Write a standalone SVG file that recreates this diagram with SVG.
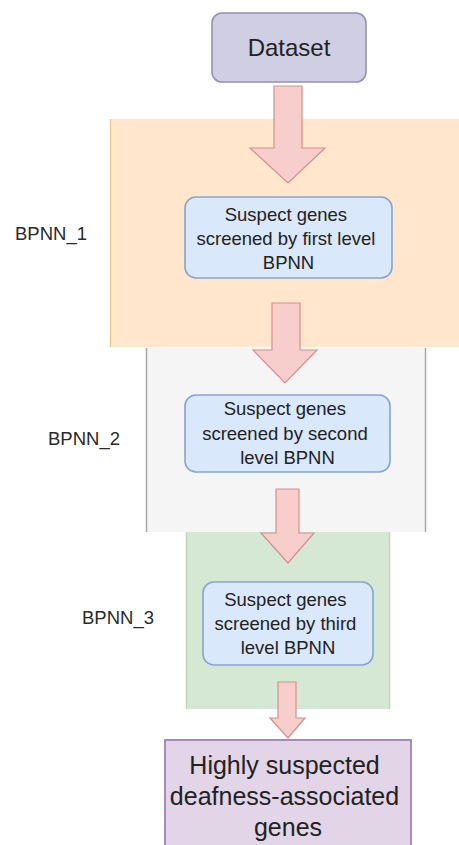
<svg xmlns="http://www.w3.org/2000/svg" width="459" height="845" viewBox="0 0 459 845">
  <style>
    .lbl { font-family: "Liberation Sans", Arial, sans-serif; fill: #222; text-anchor: middle; }
    .side { font-family: "Liberation Sans", Arial, sans-serif; fill: #2a2a2a; font-size: 18.5px; }
    .step { fill: #dae8fc; stroke: #86a3d6; stroke-width: 1.6; }
    .arrow { fill: #f8cecc; stroke: #d68f8c; stroke-width: 1.2; stroke-linejoin: miter; }
  </style>

  <rect width="459" height="845" fill="#ffffff"/>

  <!-- stage panels -->
  <g id="panel-bpnn1">
    <rect x="110" y="119" width="349" height="228" fill="#ffe6cc"/>
    <line x1="110.5" y1="119" x2="110.5" y2="347" stroke="#f0c98f" stroke-width="1.5"/>
  </g>
  <g id="panel-bpnn2">
    <rect x="146" y="348" width="280" height="184" fill="#f5f5f5"/>
    <line x1="146.5" y1="348" x2="146.5" y2="532" stroke="#a8a8a8" stroke-width="1.5"/>
    <line x1="425.5" y1="348" x2="425.5" y2="532" stroke="#a8a8a8" stroke-width="1.5"/>
  </g>
  <g id="panel-bpnn3">
    <rect x="186" y="532" width="204" height="177" fill="#d5e8d4"/>
    <line x1="186.5" y1="532" x2="186.5" y2="709" stroke="#bcd9b0" stroke-width="1.5"/>
    <line x1="389.5" y1="532" x2="389.5" y2="709" stroke="#bcd9b0" stroke-width="1.5"/>
  </g>

  <!-- stage labels -->
  <g id="label-bpnn1"><text class="side" x="15" y="240">BPNN_1</text></g>
  <g id="label-bpnn2"><text class="side" x="48" y="445">BPNN_2</text></g>
  <g id="label-bpnn3"><text class="side" x="82" y="624">BPNN_3</text></g>

  <!-- block arrows -->
  <g id="connectors">
    <polygon class="arrow" points="274,86 302,86 302,148 325,148 288,183 250,148 274,148"/>
    <polygon class="arrow" points="272,303 300,303 300,350 317,350 285,383 253,350 272,350"/>
    <polygon class="arrow" points="276,489 299,489 299,533 314,533 288,563 261,533 276,533"/>
    <polygon class="arrow" points="278,682 296,682 296,718 305,718 288,738 270,718 278,718"/>
  </g>

  <g id="dataset">
    <rect x="212" y="13" width="154" height="69" rx="10" fill="#d0cee2" stroke="#9490b6" stroke-width="1.6"/>
    <text class="lbl" x="289" y="56" font-size="24">Dataset</text>
  </g>

  <g id="step1">
    <rect class="step" x="185" y="197" width="207" height="81" rx="11"/>
    <text class="lbl" font-size="18.5">
      <tspan x="288.5" y="221">Suspect genes</tspan>
      <tspan x="288.5" y="245">screened by first level</tspan>
      <tspan x="288.5" y="269">BPNN</tspan>
    </text>
  </g>

  <g id="step2">
    <rect class="step" x="185" y="395" width="205" height="77" rx="11"/>
    <text class="lbl" font-size="18.5">
      <tspan x="287.5" y="415">Suspect genes</tspan>
      <tspan x="287.5" y="440">screened by second</tspan>
      <tspan x="287.5" y="464">level BPNN</tspan>
    </text>
  </g>

  <g id="step3">
    <rect class="step" x="203" y="582" width="170" height="83" rx="11"/>
    <text class="lbl" font-size="18.5">
      <tspan x="288" y="606">Suspect genes</tspan>
      <tspan x="288" y="630">screened by third</tspan>
      <tspan x="288" y="654">level BPNN</tspan>
    </text>
  </g>

  <g id="result">
    <rect x="165" y="740" width="246" height="115" fill="#e1d5e7" stroke="#a88bb8" stroke-width="2"/>
    <text class="lbl" font-size="25">
      <tspan x="288" y="774">Highly suspected</tspan>
      <tspan x="288" y="805">deafness-associated</tspan>
      <tspan x="288" y="836">genes</tspan>
    </text>
  </g>
</svg>
